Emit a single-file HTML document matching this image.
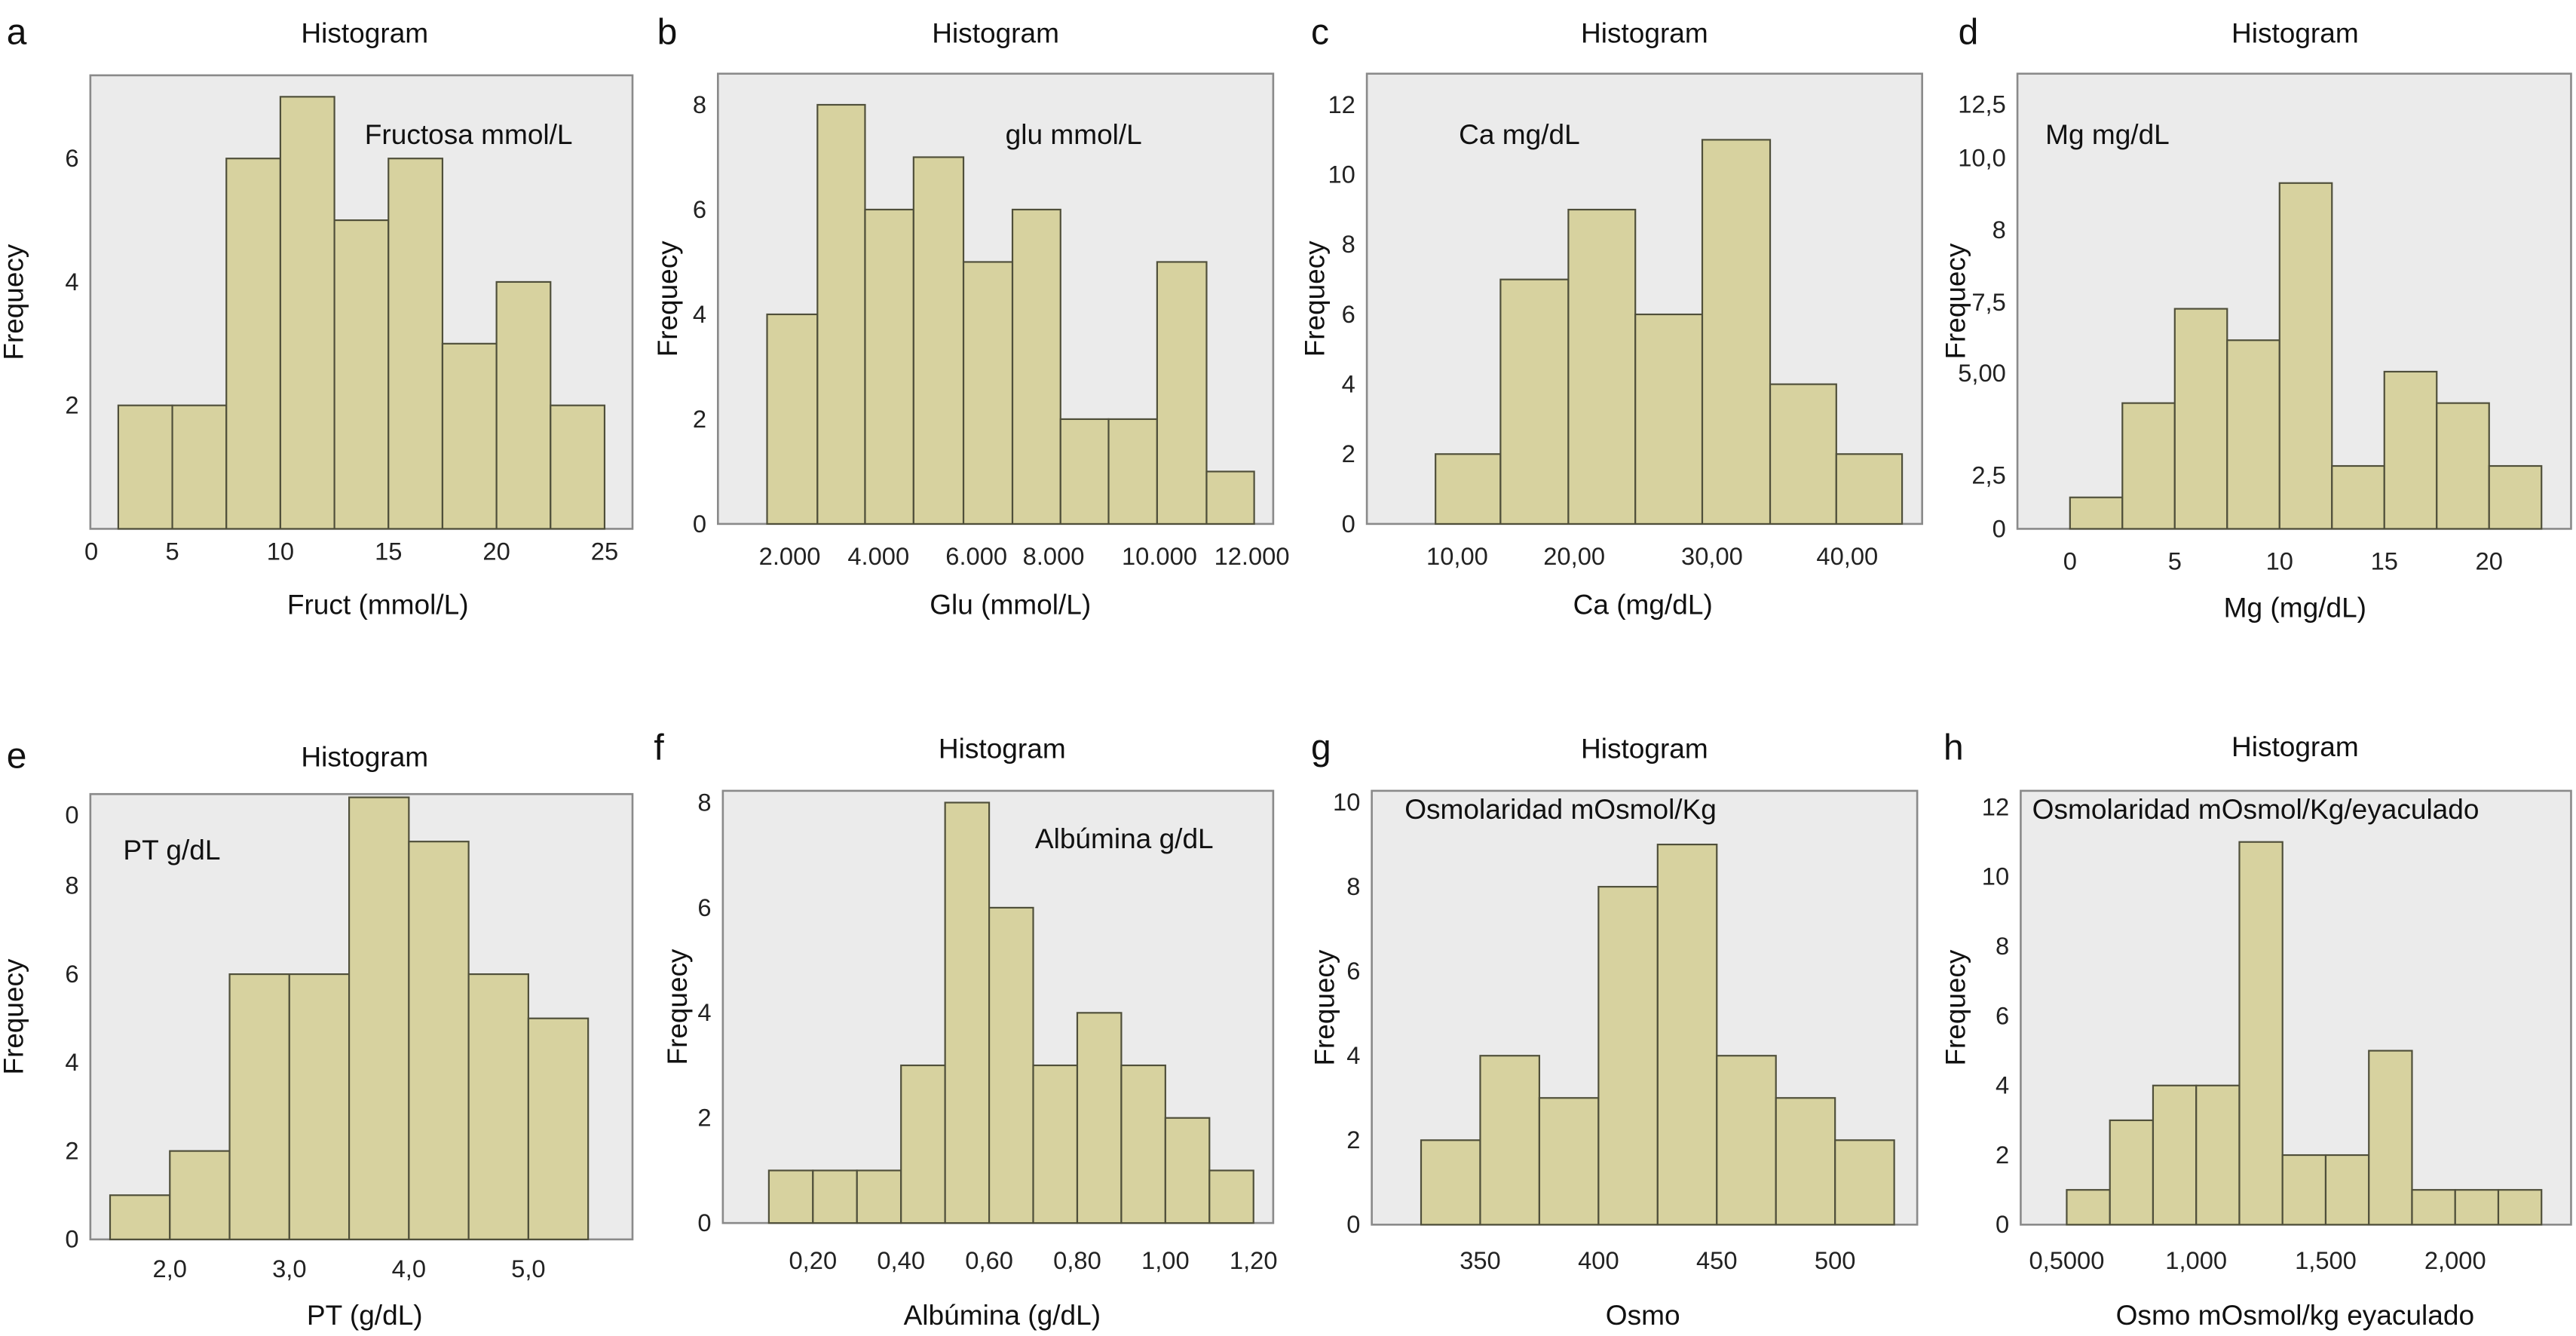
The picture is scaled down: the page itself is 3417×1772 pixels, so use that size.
<!DOCTYPE html>
<html><head><meta charset="utf-8">
<style>
html,body{margin:0;padding:0;background:#fff;}
svg{display:block;font-family:"Liberation Sans",sans-serif;}
</style></head>
<body>
<svg id="fig" width="3417" height="1772" viewBox="0 0 1568 816" preserveAspectRatio="none" xmlns="http://www.w3.org/2000/svg"></svg>
<script>
// ---- data arrays ----
const aEdges=[2.5,5,7.5,10,12.5,15,17.5,20,22.5,25];
const aValues=[2,2,6,7,5,6,3,4,2];
const aXTicks=[1.25,5,10,15,20,25];
const aXLabels=["0","5","10","15","20","25"];
const aYTicks=[2,4,6];
const aYLabels=["2","4","6"];

const bEdges=[1.51,2.60,3.63,4.68,5.76,6.82,7.86,8.90,9.95,11.02,12.05];
const bValues=[4,8,6,7,5,6,2,2,5,1];
const bXTicks=[2,3.92,6.04,7.71,10,12];
const bXLabels=["2.000","4.000","6.000","8.000","10.000","12.000"];
const bYTicks=[0,2,4,6,8];
const bYLabels=["0","2","4","6","8"];

const cEdges=[8.33,13.33,18.55,23.7,28.85,34.07,39.16,44.22];
const cValues=[2,7,9,6,11,4,2];
const cXTicks=[10,19,29.6,40];
const cXLabels=["10,00","20,00","30,00","40,00"];
const cYTicks=[0,2,4,6,8,10,12];
const cYLabels=["0","2","4","6","8","10","12"];

const dEdges=[0,2.5,5,7.5,10,12.5,15,17.5,20,22.5];
const dValues=[1,4,7,6,11,2,5,4,2];
const dXTicks=[0,5,10,15,20];
const dXLabels=["0","5","10","15","20"];
const dYTicks=[0,1.7,4.95,7.2,9.5,11.8,13.5];
const dYLabels=["0","2,5","5,00","7,5","8","10,0","12,5"];

const eEdges=[1.5,2,2.5,3,3.5,4,4.5,5,5.5];
const eValues=[1,2,6,6,10,9,6,5];
const eXTicks=[2,3,4,5];
const eXLabels=["2,0","3,0","4,0","5,0"];
const eYTicks=[0,2,4,6,8,9.6];
const eYLabels=["0","2","4","6","8","0"];

const fEdges=[0.1,0.2,0.3,0.4,0.5,0.6,0.7,0.8,0.9,1.0,1.1,1.2];
const fValues=[1,1,1,3,8,6,3,4,3,2,1];
const fXTicks=[0.2,0.4,0.6,0.8,1.0,1.2];
const fXLabels=["0,20","0,40","0,60","0,80","1,00","1,20"];
const fYTicks=[0,2,4,6,8];
const fYLabels=["0","2","4","6","8"];

const gEdges=[325,350,375,400,425,450,475,500,525];
const gValues=[2,4,3,8,9,4,3,2];
const gXTicks=[350,400,450,500];
const gXLabels=["350","400","450","500"];
const gYTicks=[0,2,4,6,8,10];
const gYLabels=["0","2","4","6","8","10"];

const hEdges=[0.5,0.6667,0.8333,1.0,1.1667,1.3333,1.5,1.6667,1.8333,2.0,2.1667,2.3333];
const hValues=[1,3,4,4,11,2,2,5,1,1,1];
const hXTicks=[0.5,1.0,1.5,2.0];
const hXLabels=["0,5000","1,000","1,500","2,000"];
const hYTicks=[0,2,4,6,8,10,12];
const hYLabels=["0","2","4","6","8","10","12"];

// ---- layout config (positions only) ----
const panels=[
 {id:"a",edges:aEdges,values:aValues,xt:aXTicks,xl:aXLabels,yt:aYTicks,yl:aYLabels,
  box:[55,46,385,323],xs:[2.5,72,25,368],yk:37.7,letter:[4,20],title:[222,20],inner:["Fructosa mmol/L",222,88],xtitle:["Fruct (mmol/L)",230,370],ytx:14,xly:342},
 {id:"b",edges:bEdges,values:bValues,xt:bXTicks,xl:bXLabels,yt:bYTicks,yl:bYLabels,
  box:[437,45,775,320],xs:[2,480.7,12,762],yk:32,letter:[400,20],title:[606,20],inner:["glu mmol/L",612,88],xtitle:["Glu (mmol/L)",615,370],ytx:412,xly:345},
 {id:"c",edges:cEdges,values:cValues,xt:cXTicks,xl:cXLabels,yt:cYTicks,yl:cYLabels,
  box:[832,45,1170,320],xs:[10,887,40,1124.4],yk:21.33,letter:[798,20],title:[1001,20],inner:["Ca mg/dL",888,88],xtitle:["Ca (mg/dL)",1000,370],ytx:806,xly:345},
 {id:"d",edges:dEdges,values:dValues,xt:dXTicks,xl:dXLabels,yt:dYTicks,yl:dYLabels,
  box:[1228,45,1565,323],xs:[0,1260,22.5,1547],yk:19.2,letter:[1192,20],title:[1397,20],inner:["Mg mg/dL",1245,88],xtitle:["Mg (mg/dL)",1397,372],ytx:1196,xly:348},
 {id:"e",edges:eEdges,values:eValues,xt:eXTicks,xl:eXLabels,yt:eYTicks,yl:eYLabels,
  box:[55,485,385,757],xs:[1.5,67,5.5,358],yk:27,letter:[4,462],title:[222,462],inner:["PT g/dL",75,525],xtitle:["PT (g/dL)",222,804],ytx:14,xly:780},
 {id:"f",edges:fEdges,values:fValues,xt:fXTicks,xl:fXLabels,yt:fYTicks,yl:fYLabels,
  box:[440,483,775,747],xs:[0.1,468,1.2,763],yk:32.1,letter:[398,457],title:[610,457],inner:["Albúmina g/dL",630,518],xtitle:["Albúmina (g/dL)",610,804],ytx:418,xly:775},
 {id:"g",edges:gEdges,values:gValues,xt:gXTicks,xl:gXLabels,yt:gYTicks,yl:gYLabels,
  box:[835,483,1167,748],xs:[325,865,525,1153],yk:25.8,letter:[798,457],title:[1001,457],inner:["Osmolaridad mOsmol/Kg",855,500],xtitle:["Osmo",1000,804],ytx:812,xly:775},
 {id:"h",edges:hEdges,values:hValues,xt:hXTicks,xl:hXLabels,yt:hYTicks,yl:hYLabels,
  box:[1230,483,1565,748],xs:[0.5,1258,2.3333,1547],yk:21.25,letter:[1183,457],title:[1397,456],inner:["Osmolaridad mOsmol/Kg/eyaculado",1237,500],xtitle:["Osmo mOsmol/kg eyaculado",1397,804],ytx:1196,xly:775}
];
const NS="http://www.w3.org/2000/svg";
const svg=document.getElementById("fig");
function mk(tag,attrs,parent,txt){const e=document.createElementNS(NS,tag);for(const k in attrs)e.setAttribute(k,attrs[k]);if(txt!==undefined)e.textContent=txt;parent.appendChild(e);return e;}

panels.forEach(p=>{
  const g=mk("g",{},svg);
  
  
  const [bx0,by0,bx1,by1]=p.box;
  const xS=v=>p.xs[1]+(v-p.xs[0])*(p.xs[3]-p.xs[1])/(p.xs[2]-p.xs[0]);
  const yS=v=>by1-v*p.yk;
  const bg=mk("rect",{x:bx0,y:by0,width:bx1-bx0,height:by1-by0,fill:"#ebebeb",stroke:"#8a8a8a","stroke-width":1.2},g);
  
  
  p.values.forEach((v,i)=>{
    const x0=xS(p.edges[i]),x1=xS(p.edges[i+1]);
    const r=mk("rect",{x:x0,y:yS(v),width:x1-x0,height:v*p.yk,fill:"#d7d29f",stroke:"#4f4f3a","stroke-width":1},g);
    
    
  });
  p.xt.forEach((t,i)=>{
    const tx=mk("text",{x:xS(t),y:p.xly,"font-size":15,"text-anchor":"middle",fill:"#222"},g,p.xl[i]);
    
    
  });
  p.yt.forEach((t,i)=>{
    const ty=mk("text",{x:bx0-7,y:yS(t)+5,"font-size":15,"text-anchor":"end",fill:"#222"},g,p.yl[i]);
    
    
  });
  const L=mk("text",{x:p.letter[0],y:p.letter[1]+7,"font-size":22,fill:"#111"},g,p.id);
  
  
  const T=mk("text",{x:p.title[0],y:p.title[1]+6,"font-size":17,"text-anchor":"middle",fill:"#111"},g,"Histogram");
  
  
  const I=mk("text",{x:p.inner[1],y:p.inner[2],"font-size":17,fill:"#111"},g,p.inner[0]);
  
  
  const X=mk("text",{x:p.xtitle[1],y:p.xtitle[2]+5,"font-size":17,"text-anchor":"middle",fill:"#111"},g,p.xtitle[0]);
  
  
  const cy=(by0+by1)/2;
  const Y=mk("text",{x:p.ytx,y:cy,"font-size":17,"text-anchor":"middle",fill:"#111",transform:"rotate(-90 "+p.ytx+" "+cy+")"},g,"Frequecy");
  
  
});
</script>
</body></html>
